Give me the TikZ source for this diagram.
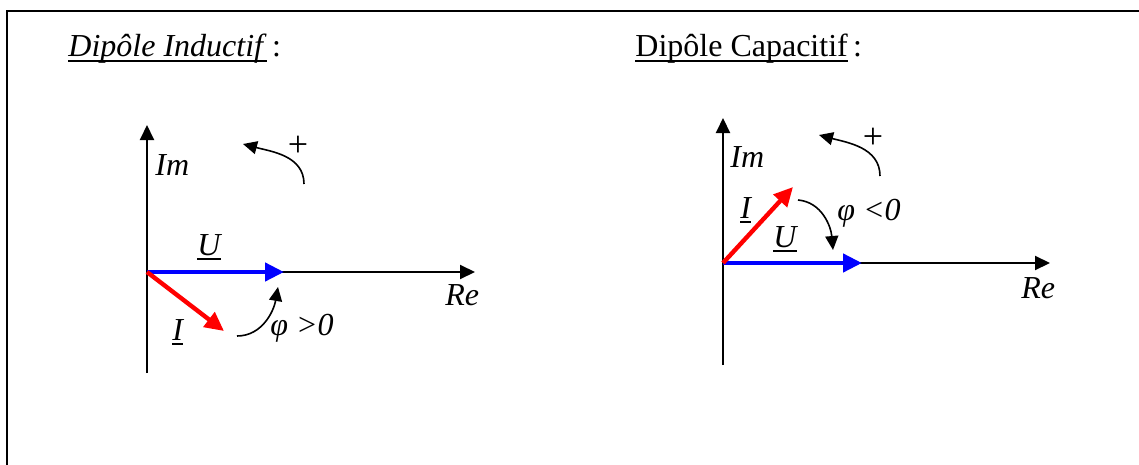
\documentclass[tikz,border=0pt]{standalone}
\usepackage{fontspec}
\setmainfont{Liberation Serif}
\usetikzlibrary{arrows.meta}
\newcommand{\uln}[1]{\setbox0\hbox{#1}\rlap{\rule[-0.16em]{\wd0}{0.06em}}\box0}

\begin{document}
\begin{tikzpicture}[
        x=0.5pt, y=-0.5pt,
        lbl/.style={font=\fontsize{16}{19}\selectfont\itshape, inner sep=0pt, anchor=base west},
        title/.style={font=\fontsize{16}{19}\selectfont, inner sep=0pt, anchor=base west},
        axis/.style={line width=1pt, -{Triangle[length=7.5pt, width=7pt]}},
        phasor/.style={line width=2.2pt, -{Triangle[length=9.5pt, width=9pt]}},
        turn/.style={line width=0.8pt, -{Triangle[length=7pt, width=6.5pt]}}
    ]
        \useasboundingbox (0,0) rectangle (1139,465);
        % Frame (top and left edges)
        \draw[line width=1pt] (7,465) -- (7,11) -- (1139,11);

        % Titles
        \node[title] (t1) at (68,57) {\uln{\textit{Dipôle Inductif}}\,:};
        \node[title] (t2) at (635,57) {\uln{Dipôle Capacitif}\,:};

        % Inductive dipole: points
        \coordinate (o1) at (147,272);
        \coordinate (re1) at (475,272);
        \coordinate (imtop1) at (147,125);
        \coordinate (imbot1) at (147,373);
        \coordinate (u1) at (284,272);
        \coordinate (i1) at (224,331);
        \coordinate (pa1) at (304,184);
        \coordinate (pb1) at (243,144);
        \coordinate (fa1) at (237,336);
        \coordinate (fb1) at (278,287);

        % Axes
        \draw[axis] (imbot1) -- (imtop1);
        \draw[axis] (o1) -- (re1);

        % Phasors
        \draw[phasor, blue] (o1) -- (u1);
        \draw[phasor, red] (o1) -- (i1);

        % Rotation arrows
        \draw[turn] (pa1) to[out=90, in=-15] (pb1);
        \draw[turn] (fa1) to[out=0, in=-100] (fb1);

        % Labels
        \node[lbl] (im1) at (155,175) {Im};
        \node[lbl] (rel1) at (445,305) {Re};
        \node[lbl] (ul1) at (197,255) {\uln{U}};
        \node[lbl] (il1) at (172,340) {\uln{I}};
        \node[lbl] (phi1) at (270,335) {φ >0};
        \node[lbl, font=\fontsize{18}{19}\selectfont, anchor=center] (plus1) at (298,146) {+};

        % Capacitive dipole: points
        \coordinate (o2) at (723,263);
        \coordinate (re2) at (1050,263);
        \coordinate (imtop2) at (723,118);
        \coordinate (imbot2) at (723,365);
        \coordinate (u2) at (862,263);
        \coordinate (i2) at (793,187);
        \coordinate (pa2) at (880,176);
        \coordinate (pb2) at (819,135);
        \coordinate (fa2) at (798,200);
        \coordinate (fb2) at (833,250);

        % Axes
        \draw[axis] (imbot2) -- (imtop2);
        \draw[axis] (o2) -- (re2);

        % Phasors
        \draw[phasor, blue] (o2) -- (u2);
        \draw[phasor, red] (o2) -- (i2);

        % Rotation arrows
        \draw[turn] (pa2) to[out=90, in=-15] (pb2);
        \draw[turn] (fa2) to[out=-5, in=95] (fb2);

        % Labels
        \node[lbl] (im2) at (730,167) {Im};
        \node[lbl] (rel2) at (1021,298) {Re};
        \node[lbl] (ul2) at (773,247) {\uln{U}};
        \node[lbl] (il2) at (740,218) {\uln{I}};
        \node[lbl] (phi2) at (837,220) {φ <0};
        \node[lbl, font=\fontsize{18}{19}\selectfont, anchor=center] (plus2) at (873,138) {+};
    \end{tikzpicture}
\end{document}
